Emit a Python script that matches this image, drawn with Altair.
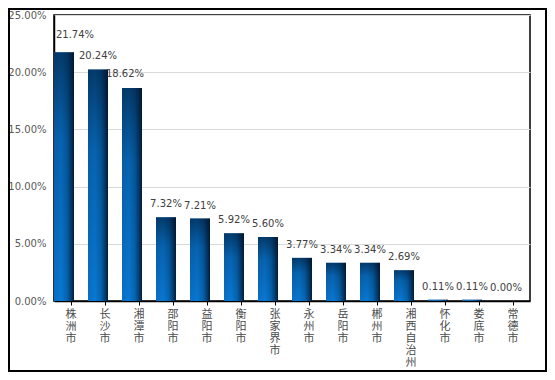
import altair as alt
import pandas as pd

cities = ["株洲市", "长沙市", "湘潭市", "邵阳市", "益阳市", "衡阳市", "张家界市",
          "永州市", "岳阳市", "郴州市", "湘西自治州", "怀化市", "娄底市", "常德市"]
shares = [21.74, 20.24, 18.62, 7.32, 7.21, 5.92, 5.60,
          3.77, 3.34, 3.34, 2.69, 0.11, 0.11, 0.00]
y_ticks = [0, 5, 10, 15, 20, 25]

df = pd.DataFrame({"city": cities, "share": shares})

FONT = "DejaVu Sans"
CJK = "Noto Sans CJK SC"

x_enc = alt.X("city:N", sort=cities, title=None,
              scale=alt.Scale(paddingInner=0, paddingOuter=0),
              axis=alt.Axis(labelAngle=0, labelExpr="split(datum.label, '')",
                            labelFont=CJK, labelFontSize=11, labelLineHeight=12,
                            labelColor="#4a4a4a", labelBaseline="top",
                            labelAlign="center", labelPadding=3,
                            domainColor="black", domainWidth=1.5,
                            tickColor="black", tickSize=4, tickWidth=1))
x_plain = alt.X("city:N", sort=cities)
y_enc = alt.Y("share:Q", title=None,
              scale=alt.Scale(domain=[0, 25], nice=False),
              axis=alt.Axis(values=y_ticks, labelExpr="format(datum.value, '.2f') + '%'",
                            labelFont=FONT, labelFontSize=10, labelColor="#595959",
                            labelPadding=8, ticks=False, domainColor="black",
                            domainWidth=1.5, grid=True, gridColor="#d9d9d9",
                            gridWidth=1))

h_grad = alt.LinearGradient(
    gradient="linear", x1=0, x2=1, y1=0, y2=0,
    stops=[alt.GradientStop(offset=0, color="#0a6ec4"),
           alt.GradientStop(offset=0.35, color="#0878d2"),
           alt.GradientStop(offset=0.65, color="#0664b0"),
           alt.GradientStop(offset=0.85, color="#043e72"),
           alt.GradientStop(offset=1, color="#021d38")])
v_grad = alt.LinearGradient(
    gradient="linear", x1=0, x2=0, y1=0, y2=1,
    stops=[alt.GradientStop(offset=0, color="rgba(0,18,40,0.6)"),
           alt.GradientStop(offset=0.35, color="rgba(0,18,40,0.2)"),
           alt.GradientStop(offset=1, color="rgba(0,18,40,0)")])

base = alt.Chart(df)
bars = base.mark_bar(color=h_grad, size=20, xOffset=-7).encode(x=x_enc, y=y_enc)
shade = base.mark_bar(color=v_grad, size=20, xOffset=-7).encode(x=x_plain, y="share:Q")

lbl_base = base.transform_calculate(lbl="format(datum.share, '.2f') + '%'")
text_style = dict(font=FONT, fontSize=10, color="#404040", baseline="alphabetic")

labels_main = lbl_base.transform_filter(
    "datum.city != '株洲市' && datum.city != '湘潭市'"
).mark_text(dy=-10, dx=-7, **text_style).encode(x=x_plain, y="share:Q", text="lbl:N")
label_first = lbl_base.transform_filter("datum.city == '株洲市'").mark_text(
    dy=-14, dx=4, **text_style).encode(x=x_plain, y="share:Q", text="lbl:N")
label_third = lbl_base.transform_filter("datum.city == '湘潭市'").mark_text(
    dy=-11, dx=-14, **text_style).encode(x=x_plain, y="share:Q", text="lbl:N")

frame = alt.Chart(alt.Data(values=[{}])).mark_rect(
    fill=None, stroke="black", strokeWidth=2
).encode(x=alt.value(-45), x2=alt.value(492), y=alt.value(-6), y2=alt.value(356))

chart = alt.layer(bars, shade, labels_main, label_first, label_third, frame).properties(
    width=476, height=286,
    autosize=alt.AutoSizeParams(type="none"),
    padding={"left": 46, "top": 7, "right": 17, "bottom": 71},
).configure_view(stroke="black", strokeWidth=1.5)

chart.save("out.html", embed_options={"renderer": "svg", "actions": False})
